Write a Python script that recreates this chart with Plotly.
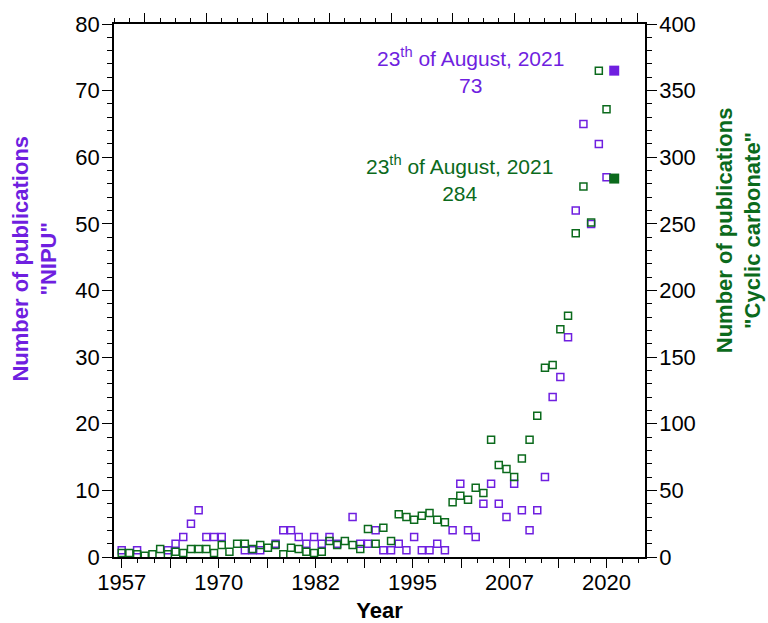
import plotly.graph_objects as go

# ---------------- data ----------------
nipu_years = [1957, 1959, 1963, 1964, 1965, 1966, 1967, 1968, 1969, 1970,
              1973, 1974, 1975, 1977, 1978, 1979, 1980, 1981, 1982, 1983,
              1984, 1985, 1987, 1988, 1989, 1990, 1991, 1992, 1993, 1994,
              1995, 1996, 1997, 1998, 1999, 2000, 2001, 2002, 2003, 2004,
              2005, 2006, 2007, 2008, 2009, 2010, 2011, 2012, 2013, 2014,
              2015, 2016, 2017, 2018, 2019, 2020]
nipu_values = [1, 1, 1, 2, 3, 5, 7, 3, 3, 3,
               1, 1, 1, 2, 4, 4, 3, 2, 3, 2,
               3, 2, 6, 2, 2, 4, 1, 1, 2, 1,
               3, 1, 1, 2, 1, 4, 11, 4, 3, 8,
               11, 8, 6, 11, 7, 4, 7, 12, 24, 27,
               33, 52, 65, 50, 62, 57]

cc_years = list(range(1957, 2021))
cc_values = [3, 3, 2, 1, 2, 6, 2, 4, 3, 6,
             6, 6, 3, 9, 4, 10, 10, 6, 9, 7,
             9, 2, 7, 6, 4, 3, 4, 12, 9, 12,
             9, 6, 21, 10, 22, 12, 32, 30, 28, 31,
             33, 28, 26, 41, 46, 43, 52, 48, 88, 69,
             66, 60, 74, 88, 106, 142, 144, 171, 181, 243,
             278, 251, 365, 336]

latest_year = [2021]
latest_nipu = [73]
latest_cc = [284]
latest_label = "23<sup>th</sup> of August, 2021"

x_tick_start = 1957
x_tick_step = 6.3
x_tick_labels = ["1957", "", "1970", "", "1982", "", "1995", "", "2007", "", "2020"]

# ---------------- style ----------------
PURPLE = "#6f1fe0"
GREEN = "#0b6a1c"
FONT = "Liberation Sans, Arial, sans-serif"

x_tick_vals = [x_tick_start + i * x_tick_step for i in range(len(x_tick_labels))]

fig = go.Figure()

fig.add_trace(go.Scatter(
    x=nipu_years, y=nipu_values, mode="markers", name="NIPU",
    marker=dict(symbol="square-open", size=7, color=PURPLE, line=dict(width=1.5, color=PURPLE)),
    yaxis="y", xaxis="x"))
fig.add_trace(go.Scatter(
    x=cc_years, y=cc_values, mode="markers", name="Cyclic carbonate",
    marker=dict(symbol="square-open", size=7, color=GREEN, line=dict(width=1.5, color=GREEN)),
    yaxis="y2", xaxis="x"))
fig.add_trace(go.Scatter(
    x=latest_year, y=latest_nipu, mode="markers",
    marker=dict(symbol="square", size=10, color=PURPLE),
    yaxis="y", xaxis="x"))
fig.add_trace(go.Scatter(
    x=latest_year, y=latest_cc, mode="markers",
    marker=dict(symbol="square", size=10, color=GREEN),
    yaxis="y2", xaxis="x"))

axis_common = dict(showline=True, linecolor="black", linewidth=1.5,
                   ticks="outside", tickcolor="black", tickwidth=1.2,
                   showgrid=False, zeroline=False, automargin=False,
                   tickfont=dict(family=FONT, size=22, color="black"))

fig.update_layout(
    width=768, height=623,
    margin=dict(l=114, r=123, t=24, b=66),
    plot_bgcolor="white", paper_bgcolor="white",
    showlegend=False,
    font=dict(family=FONT, color="black"),
    xaxis=dict(range=[1956, 2025], tickmode="array", tickvals=x_tick_vals,
               ticktext=x_tick_labels, ticklen=9, ticklabelstandoff=-4,
               minor=dict(tick0=x_tick_start, dtick=x_tick_step / 3, ticklen=4,
                          ticks="outside", tickcolor="black", tickwidth=1.2),
               title=dict(text="<b>Year</b>", font=dict(family=FONT, size=22, color="black"),
                          standoff=12),
               **axis_common),
    xaxis2=dict(range=[1956, 2025], overlaying="x", side="top", anchor="y",
                tick0=1960, dtick=8, ticklen=9, showticklabels=False,
                minor=dict(tick0=1960, dtick=2, ticklen=4, ticks="outside",
                           tickcolor="black", tickwidth=1.2),
                **axis_common),
    yaxis=dict(range=[0, 80], dtick=10, ticklen=10, ticklabelstandoff=-2,
               minor=dict(dtick=2, ticklen=5, ticks="outside", tickcolor="black", tickwidth=1.2),
               **axis_common),
    yaxis2=dict(range=[0, 400], dtick=50, ticklen=10, overlaying="y", side="right",
                anchor="x", ticklabelstandoff=-2,
                minor=dict(dtick=10, ticklen=5, ticks="outside", tickcolor="black", tickwidth=1.2),
                **axis_common),
)

# invisible trace so that the top axis renders
fig.add_trace(go.Scatter(x=[1956], y=[0], xaxis="x2", yaxis="y", mode="markers",
                         marker=dict(opacity=0), hoverinfo="skip"))

fig.add_annotation(x=2002.3, y=latest_nipu[0], xref="x", yref="y",
                   text=latest_label + "<br>" + str(latest_nipu[0]), showarrow=False,
                   xanchor="center", yanchor="middle",
                   font=dict(family=FONT, size=21, color=PURPLE), align="center")
fig.add_annotation(x=2000.9, y=latest_cc[0], xref="x", yref="y2",
                   text=latest_label + "<br>" + str(latest_cc[0]), showarrow=False,
                   xanchor="center", yanchor="middle",
                   font=dict(family=FONT, size=21, color=GREEN), align="center")

fig.add_annotation(x=-0.1505, y=0.56, xref="paper", yref="paper", textangle=-90,
                   xanchor="center", yanchor="middle",
                   text="<b>Number of publications<br>\"NIPU\"</b>", showarrow=False,
                   font=dict(family=FONT, size=22, color=PURPLE), align="center")
fig.add_annotation(x=1.177, y=0.613, xref="paper", yref="paper", textangle=-90,
                   xanchor="center", yanchor="middle",
                   text="<b>Number of publications<br>\"Cyclic carbonate\"</b>", showarrow=False,
                   font=dict(family=FONT, size=22, color=GREEN), align="center")

fig.write_html("out.html")
